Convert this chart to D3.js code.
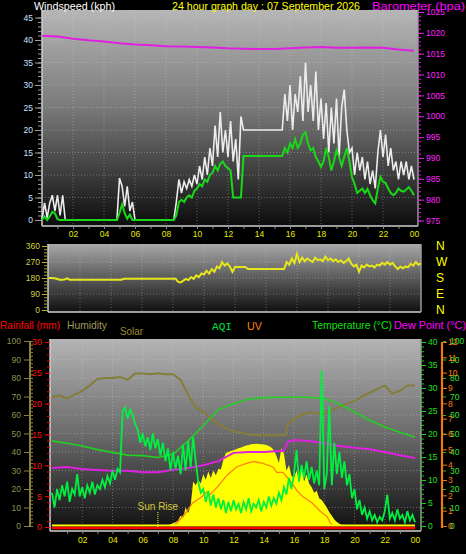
<!DOCTYPE html>
<html>
<head>
<meta charset="utf-8">
<script src="https://cdn.jsdelivr.net/npm/d3@7/dist/d3.min.js"></script>
<style>
html,body{margin:0;padding:0;background:#000;}
svg{display:block;}
</style>
</head>
<body>
<svg id="chart" width="466" height="554"></svg>
<script>
// ================= DATA =================
const hourTicks  = [2,4,6,8,10,12,14,16,18,20,22,24];
const hourLabels = ["02","04","06","08","10","12","14","16","18","20","22","00"];
const windTicks  = [0,5,10,15,20,25,30,35,40,45];
const baroTicks  = [975,980,985,990,995,1000,1005,1010,1015,1020,1025];
const dirTicks   = [0,90,180,270,360];
const dirLetters = ["N","E","S","W","N"];
const humTicks   = [0,10,20,30,40,50,60,70,80,90,100];
const rainTicks  = [0,5,10,15,20,25,30];
const tempTicks  = [0,5,10,15,20,25,30,35,40];
const uvTicks    = [0,1,2,3,4,5,6,7,8,9,10,11,12];
const aqiTicks   = [0,10,20,30,40,50,60,70,80,90,100];

// 10-minute samples (145 per day)
const windGust = [
 0,3.8,0.5,3.8,5.5,2,5.5,1,5.5,0,
 0,0,0,0,0,0,0,0,0,0,0,0,0,0,0,0,0,0,0,0,
 9.3,7.5,3,7.5,2,4,
 0,0,0,0,0,0,0,0,0,0,0,0,0,0,0,0,
 4,9,6,8.5,7,9,7.5,10,8,12,9,14,10,16,12,21,14,24,15,20,14,22,13,18,9,23,
 20,20,20,20,20,20,20,20,20,20,20,20,20,20,20,20,
 28,22,30,20,28,24,32,22,35,24,30,22,33,20,27,18,26,15,25,17,
 27,14,25,29,20,15,16,10,15,11,14,9,13,8,11,7,15,20,14,19,
 12,16,11,13,9,13,10,13,9,12,9
];
const windAvg = [
 0,0.8,0,0.8,1.8,1.5,0.2,0,0,0,
 0,0,0,0,0,0,0,0,0,0,0,0,0,0,0,0,0,0,0,0,
 1.5,3.5,1.5,0.3,1.2,0,
 0,0,0,0,0,0,0,0,0,0,0,0,0,0,0,0,
 1,4,4.5,4,5,5.5,5,6.5,7,8,7.5,9,8.5,10,10.5,12,11,12.5,13,12,11.5,11,5,5,5,5,
 14.2,14.2,14.2,14.2,14.2,14.2,14.2,14.2,14.2,14.2,14.2,14.2,14.2,14.2,14.2,14.2,
 16,15,17,16,18,16,17,19,19.5,17,15.5,16,14,13,11.8,13,16,14,11,13,
 15.5,14,12,14,16,13,9.5,8,6,6.5,7,6,6.9,5.5,4.4,3.7,7,9.6,8.5,8.2,
 7,6,5.5,6,7,6.5,6.3,6.8,7.3,6.5,5.5
];
const windDir = [
 180,180,178,176,170,170,172,178,
 170,170,170,170,170,170,170,170,170,170,170,170,170,170,170,170,170,170,170,170,170,
 176,176,176,176,176,176,176,176,176,176,176,176,176,176,176,176,176,176,176,176,176,
 158,155,165,175,168,185,175,195,185,205,200,220,205,230,215,245,235,270,250,262,245,215,242,
 242,242,242,242,
 230,230,230,230,230,230,230,230,230,230,230,230,230,230,230,
 270,255,290,265,315,270,295,275,290,280,270,295,280,285,275,300,280,290,275,285,
 270,280,265,275,290,260,245,255,215,250,240,255,245,250,240,255,250,265,255,270,
 255,265,245,230,245,235,245,240,260,250,270,255,262
];
// hourly barometer
const baroHourly = [1019.3,1019.1,1018.6,1018.2,1017.9,1017.5,1017.2,1017.0,1016.8,1016.7,1016.6,1016.5,1016.3,1016.2,1016.1,1016.1,1016.3,1016.5,1016.6,1016.4,1016.4,1016.5,1016.4,1016.0,1015.7];

const humHours  = [0,0.5,1,1.5,2,2.5,3,3.5,4,4.5,5,5.5,6,6.5,7,7.5,8,8.5,9,9.5,10,10.5,11,11.5,12,12.5,13,13.5,14,14.5,15,15.4,15.6,16,16.5,17,17.5,18,18.5,19,19.5,20,20.5,21,21.5,22,22.5,23,23.5,24];
const humValues = [69.7,70.5,69,71,73,76,79.5,80,80,80.5,79,82.5,82.5,82,82.5,82,82,79,71,64,62,58,55,53,51,50.5,49.5,49,49,49,49,49,55,58,60,61.5,61,60.5,62.5,64.5,66,67.5,70,72,74,76,71.5,73,76,76];

const tempHours  = [0,1,2,3,4,5,6,7,8,9,10,11,12,13,14,15,16,17,18,19,20,21,22,23,24];
const tempValues = [18.5,18.0,17.4,16.6,16.0,15.4,15.3,14.9,15.6,18.5,21.8,25.3,26.6,27.6,27.9,28.0,28.0,28.0,27.7,26.5,24.8,23.0,21.5,20.4,19.3];

const dewHours  = [0,1,2,3,4,5,6,7,8,9,10,11,12,13,14,15,15.3,15.6,16,17,18,19,20,21,22,23,24];
const dewValues = [12.6,12.8,12.4,12.2,12.0,12.0,11.7,11.7,12.2,12.6,13.2,14.1,15.9,16.1,16.1,16.3,16.3,18.3,18.7,18.5,18.0,17.4,17.0,16.7,16.1,15.4,14.8];

// solar, 10-minute samples starting 07:30
const solarStartHour = 7.5;
const solarValues = [
 0,3,8,15,20,30,55,45,100,70,110,240,220,250,230,280,250,295,260,300,275,310,305,360,
 395,400,405,410,415,420,425,430,435,438,442,443,444,443,442,440,438,432,425,410,380,340,
 420,390,300,330,270,260,300,250,320,240,280,230,210,180,190,150,140,120,100,75,55,35,22,12,5,2,0
];

const uvHours  = [8,8.26,8.8,9.3,9.9,10.2,10.4,10.9,11.56,12.2,12.9,13.3,13.9,14.6,14.86,15.26,15.7,16.0,16.2,16.6,17.2,17.7,18.2,18.4,18.6];
const uvValues = [0,0.2,0.8,1.5,1.9,2.2,2.0,2.5,3.3,3.85,4.1,4.2,4.1,3.85,3.5,3.5,3.0,2.6,2.3,1.9,1.5,1.0,0.6,0.2,0];

const aqiValues = [
 18,10,20,14,22,16,24,13,20,17,
 28,16,21,15,22,18,24,17,22,20,
 25,21,27,23,30,25,31,29,62,64,
 58,63,60,55,52,45,50,43,48,41,
 50,42,47,38,45,35,42,30,40,31,
 38,28,44,30,46,32,48,35,24,18,
 20,13,19,11,17,10,15,9,14,7,
 13,8,14,9,12,7,13,9,15,8,
 12,10,14,8,13,10,16,11,15,12,
 18,14,21,17,26,20,28,41,24,33,
 26,35,25,32,23,30,22,84,20,28,
 65,22,45,28,40,26,35,22,28,15,
 20,9,14,6,10,4,8,3,6,2,
 5,3,8,17,4,7,3,9,4,6,
 2,8,3,6,2
];
const rainHourly     = [0,0,0,0,0,0,0,0,0,0,0,0,0,0,0,0,0,0,0,0,0,0,0,0,0];
const rainRateHourly = [0,0,0,0,0,0,0,0,0,0,0,0,0,0,0,0,0,0,0,0,0,0,0,0,0];
const sunRiseHour = 7.0;

// ================= DRAWING =================
const FONT = "'Liberation Sans', Arial, sans-serif";
const MONO = "'Liberation Mono', 'DejaVu Sans Mono', monospace";
const svg = d3.select("#chart");
svg.append("rect").attr("width",466).attr("height",554).attr("fill","#000");
const defs = svg.append("defs");
function grad(id, stops){
  const g = defs.append("linearGradient").attr("id",id).attr("x1",0).attr("y1",0).attr("x2",0).attr("y2",1);
  stops.forEach(s=>g.append("stop").attr("offset",s[0]).attr("stop-color",s[1]));
}
grad("gTop",[["0%","#b6b6b6"],["45%","#7a7a7a"],["100%","#0c0c0c"]]);
grad("gMid",[["0%","#a8a8a8"],["50%","#5a5a5a"],["100%","#101010"]]);
grad("gBot",[["0%","#b4b4b4"],["50%","#6a6a6a"],["100%","#0e0e0e"]]);

// scales
const xTop  = d3.scaleLinear([0,24],[42,414]);
const yWind = d3.scaleLinear([0,45],[220,17.5]);
const yBaro = d3.scaleLinear([975,1025],[220.5,12]);
const xMid  = d3.scaleLinear([0,24],[49,421]);
const yDir  = d3.scaleLinear([0,360],[310,246]);
const xBot  = d3.scaleLinear([0,24],[52,415]);
const yHum  = d3.scaleLinear([0,100],[526,341]);
const yRain = d3.scaleLinear([0,30],[527,342]);
const yTemp = d3.scaleLinear([0,40],[526,342]);
const yUV   = d3.scaleLinear([0,12],[526,342]);
const yAQI  = d3.scaleLinear([0,100],[526,341]);
const ySolar= d3.scaleLinear([0,1000],[526,341]);

function panel(x,y,w,h,gid){
  svg.append("rect").attr("x",x).attr("y",y).attr("width",w).attr("height",h).attr("fill",`url(#${gid})`);
}
panel(42,10,376,216,"gTop");
panel(48,244,373,68,"gMid");
panel(50,339,371,192,"gBot");

function grid(xs, xScale, ys, yScale, x0,x1,y0,y1){
  const g = svg.append("g").attr("stroke","#d8d8d8").attr("stroke-opacity",0.35).attr("stroke-dasharray","1,2");
  xs.forEach(v=>g.append("line").attr("x1",xScale(v)).attr("x2",xScale(v)).attr("y1",y0).attr("y2",y1));
  ys.forEach(v=>g.append("line").attr("y1",yScale(v)).attr("y2",yScale(v)).attr("x1",x0).attr("x2",x1));
}
grid(hourTicks.slice(0,-1), xTop, windTicks.slice(1), yWind, 42,418,10,226);
grid(hourTicks.slice(0,-1), xMid, dirTicks.slice(1,-1), yDir, 48,421,244,312);
grid(hourTicks.slice(0,-1), xBot, humTicks.slice(1,-1), yHum, 50,421,339,531);

// frames
function frame(x,y,w,h){
  const g = svg.append("g").attr("stroke","#cfcfcf").attr("stroke-width",1.5).attr("fill","none");
  g.append("line").attr("x1",x).attr("x2",x).attr("y1",y).attr("y2",y+h);
  g.append("line").attr("x1",x).attr("x2",x+w).attr("y1",y+h).attr("y2",y+h);
  g.append("line").attr("x1",x+w).attr("x2",x+w).attr("y1",y).attr("y2",y+h).attr("stroke","#9a9a9a");
}
frame(42,10,376,216);
frame(48,244,373,68);
frame(50,339,371,192);

function styleAxis(g, tickColor, textColor, size, family){
  g.select(".domain").remove();
  g.selectAll(".tick line").attr("stroke", tickColor);
  g.selectAll("text").attr("fill", textColor).style("font-size", size+"px").style("font-family", family||FONT);
}

// ---- top panel axes ----
let g;
g = svg.append("g").attr("transform","translate(41,0)").call(d3.axisLeft(yWind).tickValues(d3.range(0,46,1)).tickSize(3).tickFormat(""));
styleAxis(g,"#9a9a9a","#000",8);
g = svg.append("g").attr("transform","translate(41,0)").call(d3.axisLeft(yWind).tickValues(windTicks).tickSize(6).tickPadding(2));
styleAxis(g,"#a0a0a0","#cfe0ff",8.5);

g = svg.append("g").attr("transform","translate(418,0)").call(d3.axisRight(yBaro).tickValues(d3.range(975,1026,1)).tickSize(3).tickFormat(""));
styleAxis(g,"#d020d0","#000",8);
g = svg.append("g").attr("transform","translate(418,0)").call(d3.axisRight(yBaro).tickValues(baroTicks).tickSize(6).tickPadding(2).tickFormat(d3.format("d")));
styleAxis(g,"#e020e0","#ff20ff",8.5);

g = svg.append("g").attr("transform","translate(0,226)").call(d3.axisBottom(xTop).tickValues(d3.range(1,24,1)).tickSize(3).tickFormat(""));
styleAxis(g,"#8a8a8a","#000",8);
g = svg.append("g").attr("transform","translate(0,226)").call(d3.axisBottom(xTop).tickValues(hourTicks).tickSize(0).tickPadding(5).tickFormat((d,i)=>hourLabels[i]));
styleAxis(g,"#8a8a8a","#e8e800",8.5);

// top panel lines
svg.append("path").datum(baroHourly).attr("fill","none").attr("stroke","#e020e0").attr("stroke-width",2)
  .attr("d", d3.line().x((d,i)=>xTop(i)).y(d=>yBaro(d)));
svg.append("path").datum(windGust).attr("fill","none").attr("stroke","#ececec").attr("stroke-width",1.6)
  .attr("d", d3.line().x((d,i)=>xTop(i/6)).y(d=>yWind(d)));
svg.append("path").datum(windAvg).attr("fill","none").attr("stroke","#18d818").attr("stroke-width",2)
  .attr("d", d3.line().x((d,i)=>xTop(i/6)).y(d=>yWind(d)));

// ---- middle panel ----
g = svg.append("g").attr("transform","translate(47,0)").call(d3.axisLeft(yDir).tickValues(d3.range(0,361,18)).tickSize(3).tickFormat(""));
styleAxis(g,"#a8a830","#000",8);
g = svg.append("g").attr("transform","translate(47,0)").call(d3.axisLeft(yDir).tickValues(dirTicks).tickSize(5).tickPadding(2));
styleAxis(g,"#b8b830","#d0d040",8.5);
svg.append("path").datum(windDir).attr("fill","none").attr("stroke","#e6e61c").attr("stroke-width",2)
  .attr("d", d3.line().x((d,i)=>xMid(i/6)).y(d=>yDir(d)));
svg.append("g").selectAll("text").data(dirTicks).join("text")
  .attr("x",436).attr("y",d=>yDir(d)).attr("dy","0.36em")
  .attr("fill","#ffff00").style("font-family",FONT).style("font-size","12px")
  .text((d,i)=>dirLetters[i]);

// ---- bottom panel axes ----
// humidity (olive)
svg.append("line").attr("x1",30).attr("x2",30).attr("y1",yHum(100)).attr("y2",yHum(0)+1).attr("stroke","#8a8040").attr("stroke-width",2);
g = svg.append("g").attr("transform","translate(30,0)").call(d3.axisRight(yHum).tickValues(d3.range(0,101,2)).tickSize(3).tickFormat(""));
styleAxis(g,"#8a8040","#000",8);
g = svg.append("g").attr("transform","translate(29,0)").call(d3.axisLeft(yHum).tickValues(humTicks).tickSize(5).tickPadding(3));
styleAxis(g,"#8a8040","#909050",8.5);
// rainfall (red)
g = svg.append("g").attr("transform","translate(50,0)").call(d3.axisLeft(yRain).tickValues(d3.range(0,31,1)).tickSize(3).tickFormat(""));
styleAxis(g,"#e00000","#000",8);
g = svg.append("g").attr("transform","translate(50,0)").call(d3.axisLeft(yRain).tickValues(rainTicks).tickSize(5).tickPadding(3));
styleAxis(g,"#ff0000","#ff1010",9);
// temperature (green)
g = svg.append("g").attr("transform","translate(421,0)").call(d3.axisRight(yTemp).tickValues(d3.range(0,41,1)).tickSize(3).tickFormat(""));
styleAxis(g,"#20c020","#000",8);
g = svg.append("g").attr("transform","translate(421,0)").call(d3.axisRight(yTemp).tickValues(tempTicks).tickSize(5).tickPadding(2));
styleAxis(g,"#20d020","#20e020",8.5);
// UV (orange) + AQI (green)
svg.append("line").attr("x1",442).attr("x2",442).attr("y1",yUV(12)).attr("y2",yUV(0)+2).attr("stroke","#f07810").attr("stroke-width",2.2);
g = svg.append("g").attr("transform","translate(443,0)").call(d3.axisRight(yAQI).tickValues(aqiTicks).tickSize(3).tickPadding(4));
styleAxis(g,"#20c020","#30e030",8.5);
g = svg.append("g").attr("transform","translate(443,0)").call(d3.axisRight(yUV).tickValues(uvTicks).tickSize(4).tickPadding(1));
styleAxis(g,"#f07810","#ff7a10",8.5);

g = svg.append("g").attr("transform","translate(0,531)").call(d3.axisBottom(xBot).tickValues(d3.range(1,24,1)).tickSize(3).tickFormat(""));
styleAxis(g,"#8a8a8a","#000",8);
g = svg.append("g").attr("transform","translate(0,531)").call(d3.axisBottom(xBot).tickValues(hourTicks).tickSize(0).tickPadding(6).tickFormat((d,i)=>hourLabels[i]));
styleAxis(g,"#8a8a8a","#e8e800",8.5);

// ---- bottom panel series ----
svg.append("path").datum(solarValues).attr("fill","#ffff00")
  .attr("d", d3.area().x((d,i)=>xBot(solarStartHour+i/6)).y0(ySolar(0)).y1(d=>ySolar(d)));
svg.append("path").datum(humValues).attr("fill","none").attr("stroke","#857d38").attr("stroke-width",2)
  .attr("d", d3.line().x((d,i)=>xBot(humHours[i])).y(d=>yHum(d)));
svg.append("path").datum(tempValues).attr("fill","none").attr("stroke","#22d022").attr("stroke-width",1.6)
  .attr("d", d3.line().x((d,i)=>xBot(tempHours[i])).y(d=>yTemp(d)));
svg.append("path").datum(dewValues).attr("fill","none").attr("stroke","#e020e0").attr("stroke-width",2)
  .attr("d", d3.line().x((d,i)=>xBot(dewHours[i])).y(d=>yTemp(d)));
svg.append("path").datum(uvValues).attr("fill","none").attr("stroke","#ff8010").attr("stroke-width",1.3)
  .attr("d", d3.line().x((d,i)=>xBot(uvHours[i])).y(d=>yUV(d)));
svg.append("path").datum(aqiValues).attr("fill","none").attr("stroke","#00f040").attr("stroke-width",1.8)
  .attr("d", d3.line().x((d,i)=>xBot(i/6)).y(d=>yAQI(d)));
svg.append("path").datum(rainRateHourly).attr("fill","none").attr("stroke","#ffff00").attr("stroke-width",2)
  .attr("transform","translate(0,-1.5)")
  .attr("d", d3.line().x((d,i)=>xBot(i)).y(d=>yRain(d)));
svg.append("path").datum(rainHourly).attr("fill","none").attr("stroke","#ff0000").attr("stroke-width",2.5)
  .attr("transform","translate(0,1)")
  .attr("d", d3.line().x((d,i)=>xBot(i)).y(d=>yRain(d)));

// sunrise marker
svg.append("line").attr("x1",xBot(sunRiseHour)).attr("x2",xBot(sunRiseHour)).attr("y1",512).attr("y2",yRain(0))
  .attr("stroke","#d8d040").attr("stroke-width",1.2).attr("stroke-dasharray","1,1");
svg.append("text").attr("x",xBot(sunRiseHour)).attr("y",510).attr("text-anchor","middle")
  .attr("fill","#d0c838").style("font-family",FONT).style("font-size","10px").text("Sun Rise");

// ---- titles / legends ----
function label(txt,x,y,color,size,len,family){
  const t = svg.append("text").attr("x",x).attr("y",y).attr("fill",color)
    .style("font-family",family||FONT).style("font-size",size+"px").text(txt);
  if(len) t.attr("textLength",len).attr("lengthAdjust","spacingAndGlyphs");
  return t;
}
label("Windspeed (kph)",34,10,"#ffffff",11.5,81);
label("24 hour graph day : 07 September 2026",172,10,"#ffff00",11.5,188);
label("Barometer (hpa)",372,10,"#ff00ff",11.5,93);
label("Rainfall (mm)",0,329,"#ff0000",11,60);
label("Humidity",67,329,"#a09a5a",11,40);
label("Solar",120,335,"#9a8e30",11,23);
label("AQI",212,330,"#00e040",11,20,MONO);
label("UV",247,330,"#ff8010",11,15);
label("Temperature (°C)",312,329,"#10e010",11,80);
label("Dew Point (°C)",394,329,"#ff00ff",11,72);
</script>
</body>
</html>
